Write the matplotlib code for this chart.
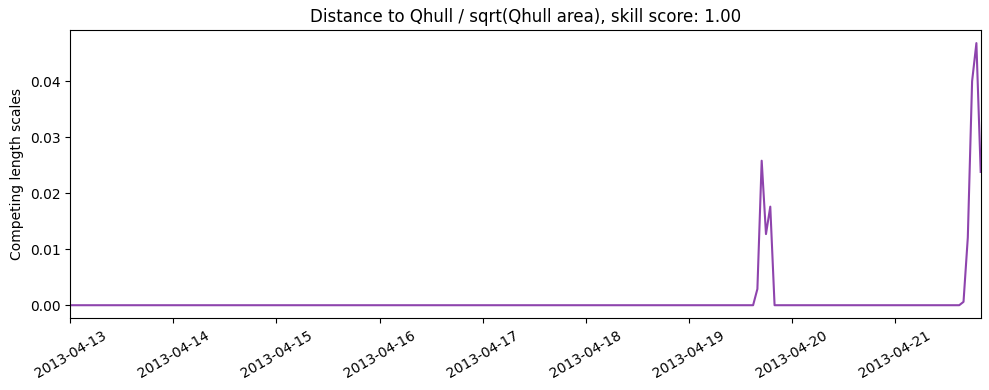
import numpy as np
import pandas as pd
import matplotlib
matplotlib.use('Agg')
import matplotlib.pyplot as plt
import matplotlib.dates as mdates

# hourly series, zero everywhere except two short events
start = "2013-04-13 00:00"
end = "2013-04-21 20:00"
event_times = ["2013-04-19 16:00", "2013-04-19 17:00", "2013-04-19 18:00", "2013-04-19 19:00",
               "2013-04-21 16:00", "2013-04-21 17:00", "2013-04-21 18:00", "2013-04-21 19:00",
               "2013-04-21 20:00"]
event_values = [0.0029, 0.0258, 0.0127, 0.0176,
                0.0006, 0.0121, 0.0400, 0.0468,
                0.0238]

times = pd.date_range(start, end, freq="h")
series = pd.Series(0.0, index=times)
series[pd.to_datetime(event_times)] = event_values

fig, ax = plt.subplots(figsize=(9.89, 3.9), dpi=100)
ax.plot(series.index, series.values, color="#8e44ad", lw=1.5)
ax.set_xlim(times[0], times[-1])
ax.xaxis.set_major_locator(mdates.DayLocator())
ax.xaxis.set_major_formatter(mdates.DateFormatter("%Y-%m-%d"))
plt.setp(ax.get_xticklabels(), rotation=30)
ax.set_ylabel("Competing length scales")
ax.set_title("Distance to Qhull / sqrt(Qhull area), skill score: 1.00")
fig.subplots_adjust(left=0.0711, right=0.9916, top=0.9231, bottom=0.1838)
plt.savefig("out.png")
plt.close()
